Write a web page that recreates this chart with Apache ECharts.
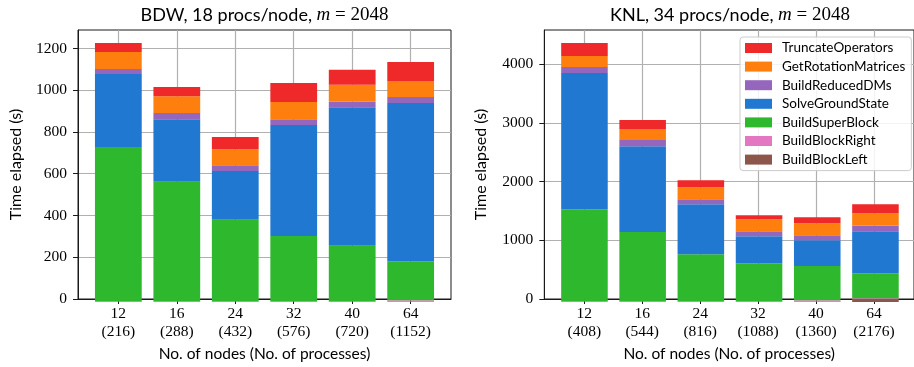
<!DOCTYPE html>
<html>
<head>
<meta charset="utf-8">
<script src="https://cdn.jsdelivr.net/npm/echarts@6/dist/echarts.min.js"></script>
<style>
  html, body { margin: 0; padding: 0; background: #fff; }
  #chart { width: 914px; height: 367px; }
</style>
</head>
<body>
<div id="chart"></div>
<script>
// Stack order, bottom to top
const seriesNames = ['BuildBlockLeft', 'BuildBlockRight', 'BuildSuperBlock', 'SolveGroundState',
                     'BuildReducedDMs', 'GetRotationMatrices', 'TruncateOperators'];
const nodeCounts = [12, 16, 24, 32, 40, 64];

// BDW, 18 procs/node
const bdwProcs = [216, 288, 432, 576, 720, 1152];
const bdwBuildBlockLeft      = [1, 1, 1, 1, 1, 2];
const bdwBuildBlockRight     = [1, 1, 1, 1, 1, 6];
const bdwBuildSuperBlock     = [732, 567, 387, 311, 264, 185];
const bdwSolveGroundState    = [346, 297, 231, 525, 657, 749];
const bdwBuildReducedDMs     = [24, 29, 28, 28, 26, 29];
const bdwGetRotationMatrices = [80, 80, 76, 81, 80, 76];
const bdwTruncateOperators   = [43, 43, 57, 90, 71, 90];
const bdwYTicks = [0, 200, 400, 600, 800, 1000, 1200];

// KNL, 34 procs/node
const knlProcs = [408, 544, 816, 1088, 1360, 2176];
const knlBuildBlockLeft      = [4, 4, 4, 5, 8, 45];
const knlBuildBlockRight     = [4, 4, 4, 5, 20, 17];
const knlBuildSuperBlock     = [1556, 1173, 796, 643, 580, 422];
const knlSolveGroundState    = [2295, 1446, 844, 455, 433, 709];
const knlBuildReducedDMs     = [102, 102, 85, 85, 84, 95];
const knlGetRotationMatrices = [185, 185, 202, 202, 203, 209];
const knlTruncateOperators   = [220, 152, 118, 68, 101, 151];
const knlYTicks = [0, 1000, 2000, 3000, 4000];

const palette = {
  BuildBlockLeft: '#8c564b',
  BuildBlockRight: '#e377c2',
  BuildSuperBlock: '#2eb82e',
  SolveGroundState: '#2078d0',
  BuildReducedDMs: '#9467bd',
  GetRotationMatrices: '#ff7f0e',
  TruncateOperators: '#ef2929'
};

const panels = [
  { label: 'BDW, 18 procs/node, ', procs: bdwProcs, yTicks: bdwYTicks,
    values: [bdwBuildBlockLeft, bdwBuildBlockRight, bdwBuildSuperBlock, bdwSolveGroundState,
             bdwBuildReducedDMs, bdwGetRotationMatrices, bdwTruncateOperators],
    left: 78, width: 373 },
  { label: 'KNL, 34 procs/node, ', procs: knlProcs, yTicks: knlYTicks,
    values: [knlBuildBlockLeft, knlBuildBlockRight, knlBuildSuperBlock, knlSolveGroundState,
             knlBuildReducedDMs, knlGetRotationMatrices, knlTruncateOperators],
    left: 544.3, width: 371.3 }
];

const TOP = 30, BOTTOM_Y = 302;
const SANS = 'Lato';
const SERIF = 'Liberation Serif';
// x range of the frame, in bar-index units (bars sit at 0..n-1 with 0.8 width, plus margins)
const xMin = -0.69, xMax = nodeCounts.length - 1 + 0.69;
const ink = '#1a1a1a';
const gridLine = { show: true, lineStyle: { color: '#b0b0b0', width: 1.2 } };

const grids = [], xAxes = [], yAxes = [], series = [], graphics = [];

panels.forEach((p, g) => {
  const totals = nodeCounts.map((_, i) => p.values.reduce((s, arr) => s + arr[i], 0));
  const yMax = Math.max(...totals) * 1.05;
  const unit = p.width / (xMax - xMin);
  const frameIdx = 2 * g, barIdx = 2 * g + 1;

  // Frame grid: spines, ticks, labels and grid lines
  grids.push({ left: p.left, top: TOP, width: p.width, height: BOTTOM_Y - TOP,
               show: true, borderColor: ink, borderWidth: 1, backgroundColor: 'transparent' });
  // Bar grid: one category band per node count, aligned with the frame's index scale
  grids.push({ left: p.left + (-0.5 - xMin) * unit, top: TOP, width: nodeCounts.length * unit,
               height: BOTTOM_Y - TOP, show: false });

  xAxes.push({
    type: 'value', gridIndex: frameIdx, min: xMin, max: xMax,
    name: 'No. of nodes (No. of processes)', nameLocation: 'middle', nameGap: 47,
    nameTextStyle: { fontFamily: SANS, fontSize: 15.5, color: '#000' },
    axisLine: { show: true, onZero: false, lineStyle: { color: ink, width: 1 } },
    axisTick: { show: true, length: 5, customValues: nodeCounts.map((_, i) => i),
                lineStyle: { color: ink, width: 1 } },
    axisLabel: {
      customValues: nodeCounts.map((_, i) => i), margin: 6,
      fontFamily: SERIF, fontSize: 15.5, color: '#000', lineHeight: 18,
      formatter: v => { const i = Math.round(v); return nodeCounts[i] + '\n(' + p.procs[i] + ')'; }
    },
    splitLine: gridLine
  });
  xAxes.push({
    type: 'category', gridIndex: barIdx, data: nodeCounts.map(String), show: false
  });

  yAxes.push({
    type: 'value', gridIndex: frameIdx, min: 0, max: yMax,
    name: 'Time elapsed (s)', nameLocation: 'middle', nameGap: g === 0 ? 54 : 55,
    nameTextStyle: { fontFamily: SANS, fontSize: 16, color: '#000' },
    axisLine: { show: true, onZero: false, lineStyle: { color: ink, width: 1 } },
    axisTick: { show: true, length: 5, customValues: p.yTicks, lineStyle: { color: ink, width: 1 } },
    axisLabel: { customValues: p.yTicks, margin: 11, fontFamily: SERIF, fontSize: 15.5, color: '#000',
                 formatter: v => String(v) },
    splitLine: gridLine
  });
  yAxes.push({
    type: 'value', gridIndex: barIdx, min: 0, max: yMax, show: false, splitLine: { show: false }
  });

  seriesNames.forEach((name, k) => {
    series.push({
      type: 'bar', name, xAxisIndex: barIdx, yAxisIndex: barIdx, stack: 'total' + g,
      barWidth: '80%', itemStyle: { color: palette[name] },
      emphasis: { disabled: true },
      data: p.values[k]
    });
  });

  graphics.push({
    type: 'text', x: p.left + p.width / 2, y: 15,
    style: {
      text: '{s|' + p.label + '}{m|m}{s| }{r|= 2048}',
      align: 'center', verticalAlign: 'middle',
      rich: {
        s: { fontFamily: SANS, fontSize: 18, fill: '#000' },
        m: { fontFamily: SERIF, fontStyle: 'italic', fontSize: 19, fill: '#000' },
        r: { fontFamily: SERIF, fontSize: 19, fill: '#000' }
      }
    }
  });
});

const chart = echarts.init(document.getElementById('chart'), null, { renderer: 'canvas' });
chart.setOption({
  animation: false,
  backgroundColor: '#fff',
  grid: grids, xAxis: xAxes, yAxis: yAxes, series,
  graphic: graphics,
  legend: {
    data: seriesNames.slice().reverse(),
    orient: 'vertical', left: 740, top: 37,
    icon: 'rect', itemWidth: 27, itemHeight: 10, itemGap: 2.6,
    padding: [3, 6, 3, 5],
    backgroundColor: 'rgba(255,255,255,0.85)', borderColor: '#cccccc', borderWidth: 1, borderRadius: 3,
    textStyle: { fontFamily: SANS, fontSize: 13.5, color: '#000', lineHeight: 16, padding: [0, 0, 0, 5] }
  }
});
</script>
</body>
</html>
